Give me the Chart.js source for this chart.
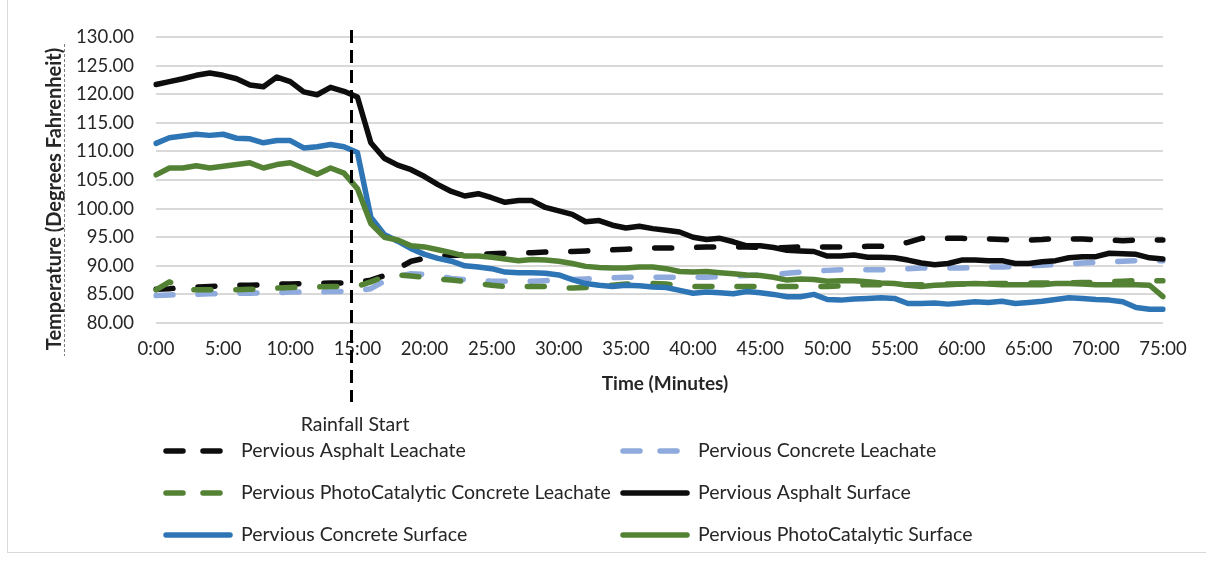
<!DOCTYPE html>
<html>
<head>
<meta charset="utf-8">
<script src="https://cdn.jsdelivr.net/npm/chart.js@4"></script>
<style>
  html, body { margin: 0; padding: 0; background: #fff; }
  #wrap { position: relative; width: 1206px; height: 565px; }
  #frame { position: absolute; left: 7px; top: 0; width: 1199px; height: 553px;
           border-left: 1px solid #d9d9d9; border-bottom: 1px solid #d9d9d9; box-sizing: border-box; }
  canvas { position: absolute; left: 0; top: 0; }
</style>
</head>
<body>
<div id="wrap">
  <div id="frame"></div>
  <canvas id="tempChart" width="1206" height="565"></canvas>
</div>
<script>
// minutes 0..75, one reading per minute
const timeLabels = Array.from({ length: 76 }, (_, i) => i + ':00');

const seriesNames = [
  'Pervious Asphalt Leachate',
  'Pervious Concrete Leachate',
  'Pervious PhotoCatalytic Concrete Leachate',
  'Pervious Asphalt Surface',
  'Pervious Concrete Surface',
  'Pervious PhotoCatalytic Surface'
];

const asphaltLeachate = [
  85.9, 86.0, 86.2, 86.3, 86.4, 86.5, 86.6, 86.6, 86.7, 86.8,
  86.8, 86.9, 86.9, 87.0, 87.0, 87.1, 87.5, 88.3, 89.5, 90.8,
  91.3, 91.6, 91.8, 91.9, 92.0, 92.1, 92.2, 92.3, 92.3, 92.4,
  92.5, 92.5, 92.6, 92.7, 92.8, 92.9, 93.0, 93.1, 93.1, 93.1,
  93.2, 93.3, 93.3, 93.3, 93.3, 93.2, 93.1, 93.2, 93.3, 93.3,
  93.3, 93.3, 93.3, 93.4, 93.4, 93.5, 94.1, 94.8, 94.9, 94.8,
  94.8, 94.7, 94.7, 94.6, 94.5, 94.5, 94.6, 94.8, 94.7, 94.7,
  94.5, 94.5, 94.4, 94.5, 94.5, 94.5
];

const concreteLeachate = [
  84.8, 84.9, 85.0, 85.0, 85.1, 85.1, 85.2, 85.2, 85.3, 85.3,
  85.4, 85.4, 85.4, 85.5, 85.5, 85.6, 86.0, 87.3, 88.2, 88.6,
  88.5, 88.2, 87.8, 87.6, 87.4, 87.3, 87.3, 87.3, 87.3, 87.4,
  87.5, 87.6, 87.7, 87.8, 87.9, 88.0, 88.0, 88.0, 88.0, 88.0,
  88.0, 88.0, 88.1, 88.2, 88.3, 88.4, 88.5, 88.7, 88.9, 89.1,
  89.2, 89.3, 89.3, 89.3, 89.3, 89.4, 89.5, 89.6, 89.6, 89.6,
  89.6, 89.7, 89.8, 89.8, 89.9, 90.0, 90.1, 90.2, 90.3, 90.5,
  90.6, 90.7, 90.8, 90.9, 90.9, 90.9
];

const photoLeachate = [
  85.8, 87.2, 85.9, 85.8, 85.8, 85.8, 85.8, 85.9, 86.0, 86.1,
  86.2, 86.3, 86.3, 86.4, 86.4, 86.4, 87.2, 88.1, 88.4, 88.2,
  88.0, 87.7, 87.5, 87.3, 86.9, 86.6, 86.4, 86.4, 86.4, 86.4,
  86.2, 86.1, 86.2, 86.4, 86.6, 86.8, 86.9, 86.9, 86.8, 86.6,
  86.4, 86.4, 86.4, 86.4, 86.4, 86.4, 86.4, 86.4, 86.4, 86.4,
  86.4, 86.5, 86.6, 86.7, 86.7, 86.7, 86.7, 86.7, 86.8, 86.8,
  86.8, 86.9, 86.9, 86.9, 86.9, 87.0, 87.0, 87.0, 87.0, 87.1,
  87.1, 87.2, 87.3, 87.4, 87.4, 87.4
];

const asphaltSurface = [
  121.7, 122.2, 122.7, 123.3, 123.7, 123.3, 122.7, 121.6, 121.3, 123.0,
  122.2, 120.4, 119.9, 121.2, 120.5, 119.5, 111.5, 108.8, 107.6, 106.8,
  105.6, 104.2, 103.0, 102.2, 102.6, 101.9, 101.1, 101.4, 101.4, 100.2,
  99.6, 99.0, 97.7, 97.9, 97.1, 96.6, 96.9, 96.5, 96.2, 95.9,
  95.0, 94.6, 94.8, 94.2, 93.5, 93.5, 93.2, 92.7, 92.6, 92.5,
  91.7, 91.7, 91.9, 91.5, 91.5, 91.4, 91.0, 90.5, 90.2, 90.4,
  91.0, 91.0, 90.9, 90.9, 90.4, 90.4, 90.7, 90.9, 91.4, 91.6,
  91.6, 92.2, 92.1, 92.0, 91.4, 91.2
];

const concreteSurface = [
  111.4, 112.4, 112.7, 113.0, 112.8, 113.0, 112.3, 112.2, 111.5, 111.9,
  111.9, 110.6, 110.8, 111.2, 110.8, 109.8, 98.5, 95.5, 94.3, 93.0,
  92.0, 91.3, 90.8, 90.0, 89.8, 89.5, 88.9, 88.8, 88.8, 88.7,
  88.4, 87.6, 86.9, 86.6, 86.4, 86.6, 86.5, 86.3, 86.2, 85.7,
  85.2, 85.4, 85.3, 85.1, 85.5, 85.3, 85.0, 84.6, 84.6, 85.0,
  84.1, 84.0, 84.2, 84.3, 84.4, 84.3, 83.4, 83.4, 83.5, 83.3,
  83.5, 83.7, 83.6, 83.8, 83.4, 83.6, 83.8, 84.1, 84.4, 84.3,
  84.1, 84.0, 83.7, 82.7, 82.4, 82.4
];

const photoSurface = [
  105.9, 107.1, 107.1, 107.5, 107.1, 107.4, 107.7, 108.0, 107.1, 107.7,
  108.0, 107.0, 106.0, 107.1, 106.2, 103.5, 97.4, 95.0, 94.5, 93.5,
  93.3, 92.8, 92.3, 91.7, 91.7, 91.5, 91.2, 90.9, 91.1, 91.0,
  90.8, 90.4, 89.9, 89.7, 89.6, 89.6, 89.8, 89.8, 89.5, 89.0,
  88.9, 89.0, 88.8, 88.6, 88.4, 88.3, 88.0, 87.5, 87.7, 87.6,
  87.3, 87.4, 87.4, 87.2, 87.0, 86.9, 86.6, 86.4, 86.6, 86.7,
  86.8, 86.9, 86.8, 86.7, 86.7, 86.7, 86.7, 86.9, 86.9, 86.8,
  86.7, 86.7, 86.7, 86.7, 86.6, 84.6
];

const seriesValues = [asphaltLeachate, concreteLeachate, photoLeachate,
                      asphaltSurface, concreteSurface, photoSurface];
const seriesColors = ['#0d0d0d', '#8faadc', '#548235', '#0d0d0d', '#2e75b6', '#548235'];
const seriesDashed = [true, true, true, false, false, false];

const yTicks = [80, 85, 90, 95, 100, 105, 110, 115, 120, 125, 130];
const rainfallStart = 14.5; // minutes

const FONT = 'Lato, "Open Sans", sans-serif';
const TEXT = '#262626';
const DASH = [17, 25];

const datasets = seriesNames.map((name, i) => ({
  label: name,
  data: seriesValues[i],
  borderColor: seriesColors[i],
  backgroundColor: seriesColors[i],
  borderWidth: 5.5,
  borderDash: seriesDashed[i] ? DASH : [],
  borderCapStyle: 'round',
  borderJoinStyle: 'round',
  pointRadius: 0,
  tension: 0,
  fill: false,
  order: 10 - i
}));

// titles, rainfall marker and two-column legend
const extrasPlugin = {
  id: 'extras',
  afterDraw(chart) {
    const ctx = chart.ctx;
    const xs = chart.scales.x;
    ctx.save();

    // rainfall start line
    const rx = Math.round(xs.getPixelForValue(rainfallStart)) + 0.5;
    ctx.strokeStyle = '#000';
    ctx.lineWidth = 3;
    ctx.setLineDash([13, 7]);
    ctx.beginPath();
    ctx.moveTo(rx, 30);
    ctx.lineTo(rx, 402);
    ctx.stroke();

    // y title
    ctx.fillStyle = TEXT;
    ctx.font = 'bold 20px ' + FONT;
    ctx.textAlign = 'center';
    ctx.textBaseline = 'middle';
    ctx.save();
    ctx.translate(55, 199);
    ctx.rotate(-Math.PI / 2);
    ctx.fillText('Temperature (Degrees Fahrenheit)', 0, 0);
    ctx.restore();

    // dotted box edge beside y title
    ctx.strokeStyle = '#7f7f7f';
    ctx.lineWidth = 1;
    ctx.setLineDash([3, 2]);
    ctx.beginPath();
    ctx.moveTo(64.5, 44);
    ctx.lineTo(64.5, 356);
    ctx.stroke();

    // x title
    ctx.font = 'bold 19px ' + FONT;
    ctx.fillText('Time (Minutes)', 665, 384);

    // rainfall label
    ctx.font = '19.5px ' + FONT;
    ctx.fillText('Rainfall Start', 355, 425);

    // legend
    const colX = [163, 620];
    ctx.textAlign = 'left';
    chart.data.datasets.forEach((ds, i) => {
      const x0 = colX[i % 2];
      const y = 451 + Math.floor(i / 2) * 42;
      ctx.strokeStyle = ds.borderColor;
      ctx.lineWidth = 5.5;
      ctx.lineCap = 'round';
      ctx.setLineDash(ds.borderDash.length ? [17, 20] : []);
      ctx.beginPath();
      ctx.moveTo(x0 + 3, y);
      ctx.lineTo(x0 + 67, y);
      ctx.stroke();
      ctx.fillStyle = TEXT;
      ctx.fillText(ds.label, x0 + 78, y);
    });
    ctx.restore();
  }
};

new Chart(document.getElementById('tempChart'), {
  type: 'line',
  data: { labels: timeLabels, datasets: datasets },
  options: {
    responsive: false,
    animation: false,
    devicePixelRatio: 1,
    layout: { padding: { left: 0, top: 37, right: 43, bottom: 0 } },
    plugins: { legend: { display: false }, tooltip: { enabled: false } },
    scales: {
      x: {
        type: 'category',
        offset: false,
        grid: { display: false, drawTicks: false },
        border: { display: false },
        afterFit(scale) { scale.height = 242; },
        ticks: {
          autoSkip: false,
          maxRotation: 0,
          padding: 15,
          color: TEXT,
          font: { family: FONT, size: 18.5 },
          callback: (v, idx) => (idx % 5 === 0 ? timeLabels[idx] : '')
        }
      },
      y: {
        min: yTicks[0],
        max: yTicks[yTicks.length - 1],
        afterBuildTicks(scale) { scale.ticks = yTicks.map(v => ({ value: v })); },
        afterFit(scale) { scale.width = 156; },
        grid: { color: '#d9d9d9', lineWidth: 2, drawTicks: false },
        border: { display: false },
        ticks: {
          padding: 22,
          color: TEXT,
          font: { family: FONT, size: 18.5 },
          callback: v => v.toFixed(2)
        }
      }
    }
  },
  plugins: [extrasPlugin]
});
</script>
</body>
</html>
